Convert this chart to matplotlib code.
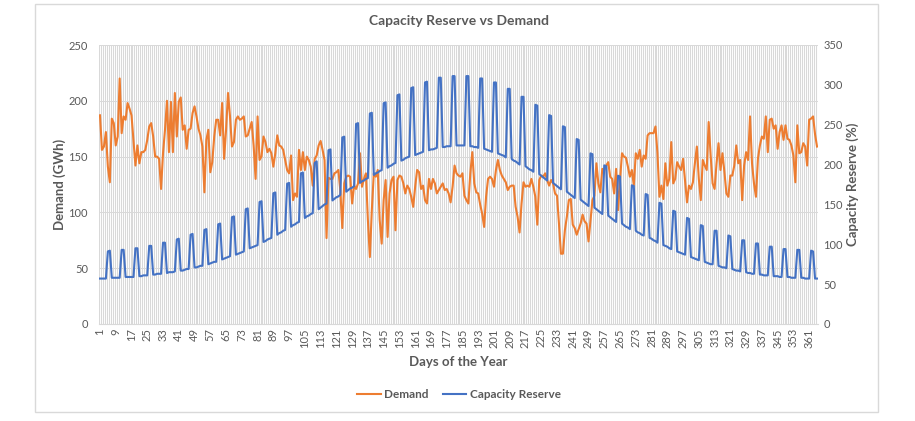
import matplotlib
matplotlib.use("Agg")
import matplotlib.pyplot as plt
import numpy as np

plt.rcParams['font.family'] = ['Lato', 'DejaVu Sans']

days = list(range(1, 366))

demand = [
    187, 156, 159, 172, 141, 127, 184, 180, 160, 168,
    220, 171, 186, 183, 198, 193, 187, 165, 142, 160,
    144, 154, 154, 156, 165, 177, 180, 168, 150, 150,
    148, 121, 153, 174, 200, 154, 199, 154, 207, 168,
    199, 203, 174, 178, 157, 174, 175, 189, 195, 186,
    175, 169, 159, 118, 165, 174, 136, 145, 168, 183,
    183, 169, 198, 148, 174, 207, 186, 159, 163, 183,
    186, 183, 184, 186, 168, 169, 175, 181, 160, 130,
    186, 147, 150, 168, 163, 154, 157, 153, 141, 153,
    169, 160, 159, 156, 147, 138, 135, 151, 111, 117,
    114, 156, 138, 154, 138, 150, 147, 141, 124, 148,
    151, 160, 164, 156, 147, 77, 131, 130, 130, 135,
    136, 138, 120, 86, 126, 132, 133, 132, 108, 124,
    121, 126, 153, 123, 130, 135, 93, 60, 102, 135,
    132, 138, 93, 72, 111, 129, 78, 117, 129, 132,
    84, 129, 133, 132, 126, 117, 124, 121, 114, 105,
    123, 138, 136, 121, 124, 111, 108, 130, 121, 130,
    126, 117, 120, 123, 126, 120, 121, 117, 109, 123,
    142, 135, 133, 132, 135, 115, 111, 108, 135, 154,
    126, 118, 117, 107, 99, 87, 114, 130, 132, 130,
    123, 138, 147, 138, 133, 130, 127, 120, 123, 124,
    124, 105, 96, 82, 108, 127, 123, 124, 123, 130,
    123, 114, 89, 129, 133, 132, 135, 129, 124, 129,
    126, 117, 115, 90, 63, 63, 84, 96, 111, 112,
    89, 86, 80, 85, 90, 98, 92, 90, 74, 93,
    111, 115, 144, 126, 118, 139, 138, 142, 145, 132,
    130, 117, 139, 102, 129, 153, 150, 149, 141, 132,
    138, 124, 153, 148, 156, 141, 151, 148, 169, 171,
    171, 171, 177, 153, 114, 124, 112, 144, 124, 130,
    163, 126, 130, 145, 141, 138, 148, 129, 109, 124,
    121, 127, 144, 159, 130, 111, 147, 142, 138, 181,
    151, 126, 121, 144, 162, 138, 153, 136, 117, 114,
    133, 133, 142, 160, 144, 147, 111, 142, 154, 147,
    186, 144, 126, 114, 148, 160, 168, 166, 186, 154,
    183, 184, 175, 178, 157, 172, 178, 165, 178, 166,
    165, 160, 151, 127, 178, 153, 154, 162, 159, 142,
    183, 184, 186, 170, 159,
]

capacity = [
    57, 57, 57, 57,
    91, 92, 58, 58, 58, 58, 58,
    93, 93, 59, 59, 59, 59, 59,
    95, 95, 60, 60, 61, 61, 61,
    98, 98, 62, 62, 63, 63, 63,
    102, 102, 64, 65, 65, 65, 66,
    106, 107, 67, 67, 68, 69, 69,
    112, 113, 71, 71, 72, 73, 73,
    118, 119, 75, 76, 77, 78, 78,
    125, 126, 81, 82, 83, 84, 85,
    134, 135, 87, 88, 89, 90, 91,
    144, 145, 95, 96, 97, 98, 99,
    153, 154, 103, 104, 106, 107, 108,
    164, 165, 112, 114, 115, 117, 118,
    176, 177, 122, 124, 125, 127, 128,
    189, 190, 133, 135, 136, 138, 139,
    202, 204, 144, 146, 148, 150, 151,
    218, 219, 155, 157, 159, 160, 162,
    234, 235, 166, 168, 170, 171, 173,
    251, 252, 177, 179, 180, 182, 183,
    264, 265, 187, 189, 190, 192, 193,
    277, 278, 196, 198, 199, 201, 202,
    287, 288, 205, 206, 208, 209, 210,
    296, 297, 212, 213, 214, 215, 216,
    303, 304, 218, 219, 219, 220, 221,
    309, 309, 222, 222, 223, 223, 223,
    311, 311, 224, 224, 224, 224, 224,
    311, 311, 223, 223, 222, 222, 221,
    308, 308, 220, 219, 218, 217, 216,
    303, 303, 214, 213, 212, 211, 209,
    295, 295, 207, 205, 204, 202, 200,
    285, 285, 198, 196, 194, 193, 191,
    275, 274, 188, 186, 184, 182, 180,
    262, 261, 177, 175, 173, 171, 169,
    248, 247, 166, 164, 162, 160, 158,
    232, 231, 156, 154, 152, 150, 148,
    214, 213, 146, 144, 142, 140, 138,
    199, 198, 136, 134, 132, 130, 128,
    186, 185, 126, 124, 122, 121, 119,
    174, 173, 117, 115, 114, 112, 111,
    163, 162, 108, 107, 105, 104, 102,
    152, 151, 99, 98, 97, 95, 94,
    142, 141, 91, 90, 89, 88, 87,
    133, 132, 84, 83, 82, 81, 80,
    124, 123, 78, 77, 76, 75, 75,
    117, 117, 73, 72, 71, 71, 70,
    111, 110, 69, 68, 67, 67, 66,
    105, 105, 65, 64, 64, 63, 63,
    101, 101, 62, 62, 61, 61, 61,
    97, 97, 60, 60, 60, 59, 59,
    94, 94, 59, 59, 58, 58, 58,
    93, 93, 58, 58, 57, 57, 57,
    92, 91, 57, 57,
]

assert len(demand) == 365, len(demand)
assert len(capacity) == 365, len(capacity)

tick_days = list(range(1, 366, 8))
left_ticks = [0, 50, 100, 150, 200, 250]
right_ticks = [0, 50, 100, 150, 200, 250, 300, 350]

TXT = '#595959'
GRID = '#D9D9D9'
ORANGE = '#ED7D31'
BLUE = '#4472C4'

fig = plt.figure(figsize=(9.15, 4.21), dpi=100)
fig.patch.set_facecolor('white')
# chart area border
fig.patches.append(plt.Rectangle((35/915, 1-412/421), (878-35)/915, (412-4)/421,
                                 transform=fig.transFigure, fill=False,
                                 edgecolor=GRID, linewidth=1.0))

ax = fig.add_axes([99/915, 1-324/421, (818-99)/915, (324-45)/421])
ax2 = ax.twinx()

ax.set_xlim(0.5, 365.5)
ax.set_ylim(0, 250)
ax2.set_ylim(0, 350)

ax.set_yticks(left_ticks)
ax2.set_yticks(right_ticks)
ax.set_xticks(tick_days)
ax.set_xticklabels([str(d) for d in tick_days], rotation=90)
ax.set_xticks(np.arange(0.5, 366, 1), minor=True)

ax.grid(True, which='minor', axis='x', color=GRID, linewidth=0.75)
ax.grid(True, which='major', axis='y', color=GRID, linewidth=0.75)
ax.set_axisbelow(True)

for a in (ax, ax2):
    for s in a.spines.values():
        s.set_visible(False)
    a.tick_params(which='both', length=0, colors=TXT, labelsize=8)
ax.spines['bottom'].set_visible(True)
ax.spines['bottom'].set_color(GRID)
ax.tick_params(axis='x', pad=3)
ax.tick_params(axis='y', pad=8)
ax2.tick_params(axis='y', pad=4)

l1, = ax.plot(days, demand, color=ORANGE, linewidth=1.5, label='Demand')
l2, = ax2.plot(days, capacity, color=BLUE, linewidth=1.5, label='Capacity Reserve')

ax.set_ylabel('Demand (GWh)', color=TXT, fontsize=9.5, fontweight='bold', labelpad=2)
ax2.set_ylabel('Capacity Reserve (%)', color=TXT, fontsize=9.5, fontweight='bold', labelpad=2)
ax.set_xlabel('Days of the Year', color=TXT, fontsize=9.5, fontweight='bold', labelpad=6)

fig.text(459/915, 1-21/421, 'Capacity Reserve vs Demand', ha='center', va='center',
         color=TXT, fontsize=10, fontweight='bold')

leg = fig.legend(handles=[l1, l2], loc='center', bbox_to_anchor=(459/915, 1-395/421),
                 ncol=2, frameon=False, handlelength=2.0, columnspacing=1.2,
                 handletextpad=0.3, prop={'weight': 'bold', 'size': 8.5})
for t in leg.get_texts():
    t.set_color(TXT)

fig.savefig('out.png', dpi=100, facecolor='white')
